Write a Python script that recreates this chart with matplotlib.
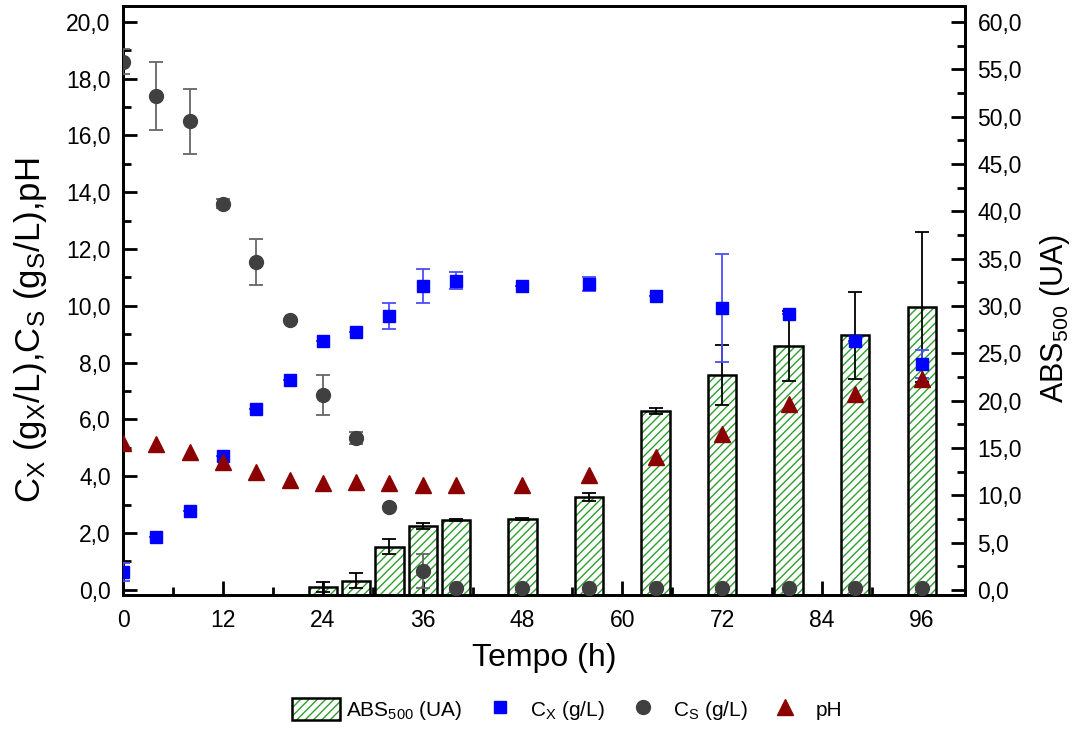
import numpy as np
import matplotlib
matplotlib.use("Agg")
import matplotlib.pyplot as plt
import matplotlib.patches as mpatches
from matplotlib.legend_handler import HandlerTuple
from matplotlib.ticker import MultipleLocator, FuncFormatter

plt.rcParams['font.family'] = ['Liberation Sans', 'DejaVu Sans']
plt.rcParams['mathtext.default'] = 'regular'
plt.rcParams['hatch.linewidth'] = 1.0

# time points (h)
t = [0, 4, 8, 12, 16, 20, 24, 28, 32, 36, 40, 48, 56, 64, 72, 80, 88, 96]

# biomass Cx (g/L)
cx = [0.63, 1.87, 2.78, 4.72, 6.37, 7.39, 8.77, 9.08, 9.65, 10.7, 10.88, 10.7,
      10.77, 10.35, 9.93, 9.72, 8.77, 7.96]
cx_err = [0.3, 0, 0, 0, 0, 0, 0, 0, 0.45, 0.6, 0.3, 0, 0.25, 0, 1.9, 0, 0, 0.5]

# substrate Cs (g/L)
cs = [18.6, 17.4, 16.5, 13.6, 11.55, 9.5, 6.87, 5.35, 2.92, 0.67, 0.05, 0.05,
      0.05, 0.05, 0.05, 0.05, 0.05, 0.05]
cs_err = [0.45, 1.2, 1.15, 0.15, 0.8, 0, 0.7, 0.2, 0, 0.6, 0, 0.05, 0, 0, 0.05, 0, 0, 0.05]

# pH
ph = [5.18, 5.14, 4.86, 4.5, 4.15, 3.87, 3.77, 3.8, 3.77, 3.7, 3.7, 3.7,
      4.05, 4.68, 5.49, 6.55, 6.9, 7.43]
ph_err = [0.2, 0.2, 0.2, 0.2, 0.2, 0.15, 0.15, 0.15, 0.15, 0.2, 0.15, 0.1,
          0.15, 0.15, 0.15, 0.1, 0.15, 0.15]

# ABS500 (UA) bars
t_abs = [24, 28, 32, 36, 40, 48, 56, 64, 72, 80, 88, 96]
abs500 = [0.3, 1.0, 4.55, 6.75, 7.4, 7.5, 9.8, 18.9, 22.7, 25.8, 26.9, 29.9]
abs_err = [0.5, 0.75, 0.8, 0.35, 0.1, 0.15, 0.4, 0.35, 3.2, 3.7, 4.6, 7.9]

fig = plt.figure(figsize=(10.76, 7.29), dpi=100)
ax = fig.add_axes([0.1145, 0.1838, 0.7823, 0.808])
ax2 = ax.twinx()

y2lim = (-0.53, 61.7)
ax2.set_ylim(*y2lim)
b0 = y2lim[0]
bw = 3.4
hatch = '////'
# hatch layer (green) + outline layer (black)
ax2.bar(t_abs, np.array(abs500) - b0, bottom=b0, width=bw, color='white',
        edgecolor='#2ca02c', hatch=hatch, linewidth=0, zorder=1)
ax2.bar(t_abs, np.array(abs500) - b0, bottom=b0, width=bw, fill=False,
        edgecolor='black', linewidth=1.8, zorder=2)
ax2.errorbar(t_abs, abs500, yerr=abs_err, fmt='none', ecolor='black',
             elinewidth=1.3, capsize=5, capthick=1.3, zorder=3)

# points on top of bars
ax.set_zorder(ax2.get_zorder() + 1)
ax.patch.set_visible(False)

ax.errorbar(t, cs, yerr=cs_err, fmt='o', color='#404040', ms=10,
            ecolor='#666666', elinewidth=1.3, capsize=5, capthick=1.3, zorder=3)
ax.errorbar(t, cx, yerr=cx_err, fmt='s', color='#0000ff', ms=9,
            ecolor='#4d4dff', elinewidth=1.3, capsize=5, capthick=1.3, zorder=4)
ax.errorbar(t, ph, yerr=ph_err, fmt='^', color='#8b0000', ms=11,
            ecolor='#8b0000', elinewidth=1.3, capsize=0, zorder=5)

ax.set_xlim(0, 101.2)
ax.set_ylim(-0.18, 20.56)

comma = FuncFormatter(lambda v, p: ('%.1f' % v).replace('.', ','))
ax.xaxis.set_major_locator(MultipleLocator(12))
ax.xaxis.set_minor_locator(MultipleLocator(6))
ax.yaxis.set_major_locator(MultipleLocator(2))
ax.yaxis.set_minor_locator(MultipleLocator(1))
ax.yaxis.set_major_formatter(comma)
ax2.yaxis.set_major_locator(MultipleLocator(5))
ax2.yaxis.set_minor_locator(MultipleLocator(2.5))
ax2.yaxis.set_major_formatter(comma)

for a in (ax, ax2):
    for s in a.spines.values():
        s.set_linewidth(2)
    a.tick_params(which='major', direction='in', length=10, width=2, labelsize=16.5)
    a.tick_params(which='minor', direction='in', length=6, width=2)
ax.tick_params(axis='x', pad=10)
ax.tick_params(axis='y', pad=9)
ax2.tick_params(axis='y', pad=9)

ax.set_xlabel('Tempo (h)', fontsize=23, labelpad=8)
ax.set_ylabel('C$_X$ (g$_X$/L),C$_S$ (g$_S$/L),pH', fontsize=25)
ax.yaxis.set_label_coords(-0.088, 0.45)
ax2.set_ylabel('ABS$_{500}$ (UA)', fontsize=22)
ax2.yaxis.set_label_coords(1.087, 0.47)

# legend
h_abs = (mpatches.Patch(facecolor='white', edgecolor='#2ca02c', hatch=hatch, lw=0),
         mpatches.Patch(fill=False, edgecolor='black', lw=1.8))
h_cx = plt.Line2D([], [], ls='none', marker='s', color='#0000ff', ms=9)
h_cs = plt.Line2D([], [], ls='none', marker='o', color='#404040', ms=10)
h_ph = plt.Line2D([], [], ls='none', marker='^', color='#8b0000', ms=11)
fig.legend([h_abs, h_cx, h_cs, h_ph],
           ['ABS$_{500}$ (UA)', 'C$_X$ (g/L)', 'C$_S$ (g/L)', 'pH'],
           handler_map={tuple: HandlerTuple(ndivide=1, pad=0)},
           loc='center', bbox_to_anchor=(0.527, 0.026), ncol=4, frameon=False,
           fontsize=15, handlelength=2.3, handleheight=1.2, columnspacing=0.65,
           handletextpad=0.3)

fig.savefig('out.png', dpi=100)
